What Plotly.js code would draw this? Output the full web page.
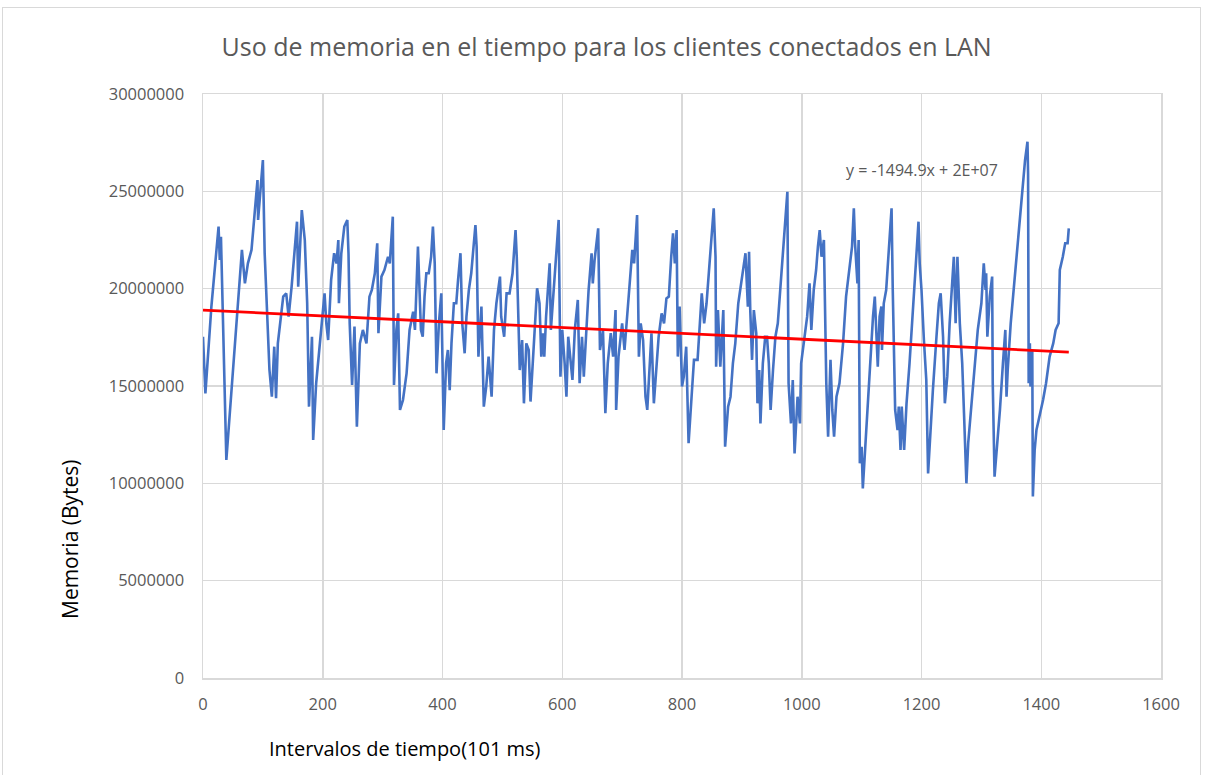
<!DOCTYPE html>
<html>
<head>
<meta charset="utf-8">
<script src="https://cdn.plot.ly/plotly-3.0.1.min.js"></script>
<style>
html,body{margin:0;padding:0;background:#fff;}
#wrap{position:relative;width:1206px;height:775px;overflow:hidden;}
#chart{position:absolute;left:0;top:0;width:1206px;height:775px;}
#frame{position:absolute;left:2px;top:7px;width:1197px;height:800px;border:1px solid #d9d9d9;pointer-events:none;}
</style>
</head>
<body>
<div id="wrap"><div id="chart"></div><div id="frame"></div></div>
<script>
// Time intervals (101 ms each)
const intervals = [0,4,14,26,28,30,39,47,58,65,70,75,81,84,91,92,97,100,103,106,111,115,119,122,125,134,139,143,148,157,159,165,170,174,177,
182,184,189,198,203,206,209,214,219,223,226,227,231,236,241,243,245,249,253,257,262,267,273,278,282,287,291,293,298,303,309,312,317,319,323,326,329,334,340,345,351,354,359,
364,367,370,373,377,381,384,387,390,394,398,402,406,409,412,415,419,423,426,430,433,437,440,444,448,455,457,460,465,469,473,477,482,486,490,496,498,503,507,512,517,522,524,529,533,536,540,544,
547,551,555,558,562,565,568,570,573,579,581,585,590,594,597,600,604,607,610,613,617,621,626,629,633,636,640,644,649,651,654,660,663,668,672,676,681,685,689,690,694,700,704,708,713,717,720,725,728,
731,735,739,742,746,749,753,757,761,766,770,774,778,782,785,788,791,793,796,800,803,807,811,816,820,826,830,833,837,841,846,850,853,856,857,860,864,869,872,877,881,885,889,894,900,906,910,
912,914,917,920,924,926,929,931,935,939,942,945,948,952,956,960,965,969,973,976,978,982,985,988,993,997,999,1005,1009,1013,1016,1020,1024,1027,1030,1033,1037,1041,1044,1048,1051,1054,1058,1063,1069,1074,1080,1084,1087,1089,1093,1095,1097,
1100,1102,1106,1111,1115,1119,1122,1125,1127,1130,1133,1134,1137,1141,1145,1150,1152,1156,1160,1162,1165,1167,1171,1175,1180,1186,1191,1195,1197,1200,1204,1208,1211,1215,1219,1225,1229,1232,1236,1239,1243,1247,1251,1254,1257,1260,1264,1268,1271,1273,1275,1278,
1283,1289,1294,1300,1304,1307,1308,1310,1314,1318,1319,1322,1327,1331,1336,1340,1342,1344,1349,1353,1358,1361,1366,1368,1371,1373,1377,1378,1379,1381,1382,1385,1386,1389,1392,1397,1403,1408,1414,1420,1424,1429,1431,1436,1440,1444,1446];

// Memory use in millions of bytes
const memoryMB = [17.53,14.62,19.08,23.19,21.47,22.67,11.20,14.45,19.25,21.99,20.27,21.30,21.99,23.19,25.58,23.53,25.41,26.61,21.82,19.25,15.82,14.45,17.02,14.37,17.19,19.59,19.76,18.56,20.10,23.44,20.10,24.04,22.50,19.25,13.94,
17.53,12.23,15.14,18.22,19.76,18.22,17.36,20.45,21.82,21.30,22.50,19.25,21.82,23.19,23.53,21.82,18.22,15.05,18.05,12.91,17.19,17.88,17.19,19.59,19.93,20.79,22.33,17.71,20.62,20.96,21.64,21.30,23.70,15.05,17.88,18.73,13.77,14.28,15.65,17.88,18.82,17.88,22.16,
17.88,17.53,19.59,20.79,20.79,21.64,23.19,21.30,15.65,18.22,19.76,12.74,16.16,16.85,14.79,17.19,19.25,19.25,20.45,21.82,18.22,16.68,18.56,19.93,20.79,23.27,22.16,16.51,19.08,13.94,14.97,16.51,14.45,17.88,19.25,20.62,18.56,17.53,19.76,19.76,20.79,23.01,21.64,15.82,17.36,14.11,17.19,16.85,
14.20,16.16,18.73,20.02,19.25,16.51,17.71,16.51,18.56,21.30,17.88,19.76,21.64,23.53,15.48,17.88,16.16,14.45,17.53,16.51,15.31,17.88,19.42,15.14,17.53,15.48,17.71,19.93,21.82,20.27,21.47,23.10,16.85,17.88,13.60,16.16,17.71,16.51,18.90,13.77,16.51,18.22,16.85,18.56,20.79,21.99,21.30,23.78,16.51,
18.22,17.36,14.45,13.77,16.51,17.71,14.11,15.99,17.53,18.73,18.22,19.50,19.59,21.64,22.84,21.30,23.01,16.51,19.08,14.97,15.48,17.02,12.06,14.45,16.34,16.34,18.05,19.76,18.22,19.25,21.30,23.01,24.13,21.64,15.99,18.90,15.99,18.90,11.88,13.94,14.45,16.16,17.19,19.25,20.62,21.82,19.08,
21.90,18.90,16.34,18.90,17.71,14.11,15.82,13.08,16.16,17.53,17.53,16.16,13.77,15.82,17.53,18.22,20.27,21.82,23.87,24.98,15.14,13.08,15.31,11.54,14.45,13.08,16.16,17.71,18.56,20.27,17.88,19.93,20.96,22.16,23.01,21.64,22.50,15.14,12.40,16.34,13.77,12.40,14.45,15.14,17.19,19.59,20.96,22.16,24.13,22.33,20.27,22.50,11.03,
11.88,9.74,11.88,14.62,16.51,18.56,19.59,17.02,15.99,18.56,19.08,16.85,19.25,19.93,21.64,24.13,19.93,13.77,12.74,13.94,11.71,13.94,11.71,14.11,16.16,18.90,21.64,23.44,21.30,19.93,17.36,15.31,10.51,12.74,14.79,17.53,19.25,19.76,17.53,14.11,15.48,18.22,20.10,21.64,18.22,21.64,18.22,16.16,13.60,12.06,10.00,12.06,
13.77,15.82,17.88,19.25,21.30,19.93,20.79,17.53,19.59,20.62,15.14,10.34,12.06,13.77,16.16,17.88,14.45,15.82,18.22,19.59,21.64,22.67,24.04,24.90,25.92,26.61,27.55,25.92,15.14,17.19,14.97,16.85,9.32,11.71,12.74,13.43,14.28,15.14,16.51,17.19,17.88,18.22,20.96,21.64,22.33,22.33,23.10];

// Linear trend shown on the chart: y = -1494.9x + 2E+07 (intercept read as ~1.89E+07)
const trendSlope = -1494.9;
const trendIntercept = 18.9e6;
const trendLabel = "y = -1494.9x + 2E+07";

const chartTitle = "Uso de memoria en el tiempo para los clientes conectados en LAN";
const xTitle = "Intervalos de tiempo(101 ms)";
const yTitle = "Memoria (Bytes)";

const memoryBytes = memoryMB.map(v => v * 1e6);
const xMin = Math.min(...intervals), xMax = Math.max(...intervals);

const traces = [
  {x: intervals, y: memoryBytes, type: 'scatter', mode: 'lines',
   line: {color: '#4472C4', width: 2.6}, hoverinfo: 'x+y', showlegend: false},
  {x: [xMin, xMax], y: [trendIntercept + trendSlope * xMin, trendIntercept + trendSlope * xMax],
   type: 'scatter', mode: 'lines', line: {color: '#FF0000', width: 2.8}, showlegend: false}
];

const gray = '#595959';
const layout = {
  width: 1206, height: 775,
  margin: {l: 203, r: 45, t: 94, b: 97},
  paper_bgcolor: '#ffffff', plot_bgcolor: '#ffffff',
  font: {family: 'Open Sans, Liberation Sans, sans-serif', color: gray},
  title: {text: chartTitle, x: 0.503, xref: 'container', xanchor: 'center', y: 0.939, yref: 'container', yanchor: 'middle',
          font: {family: 'Open Sans, sans-serif', size: 25, color: gray}},
  xaxis: {range: [0, 1600], dtick: 200, tick0: 0, showgrid: true, gridcolor: '#d9d9d9', gridwidth: 1.5,
          zeroline: false, showline: true, linecolor: '#d9d9d9', linewidth: 1.5, mirror: true,
          ticks: '', ticklabelstandoff: 11, tickfont: {size: 16.5, color: gray}},
  yaxis: {range: [0, 30000000], dtick: 5000000, tick0: 0, tickformat: 'd', showgrid: true, gridcolor: '#d9d9d9', gridwidth: 1.5,
          zeroline: false, showline: true, linecolor: '#d9d9d9', linewidth: 1.5, mirror: true,
          ticks: '', ticklabelstandoff: 14, tickfont: {size: 16.5, color: gray}},
  annotations: [
    {text: trendLabel, xref: 'paper', yref: 'paper', x: (922 - 203) / 958, y: (678 - 170) / 584,
     xanchor: 'center', yanchor: 'middle', showarrow: false, font: {size: 16, color: gray}},
    {text: xTitle, xref: 'paper', yref: 'paper', x: (405 - 203) / 958, y: (678 - 748) / 584,
     xanchor: 'center', yanchor: 'middle', showarrow: false, font: {size: 20, color: '#000000'}},
    {text: yTitle, xref: 'paper', yref: 'paper', x: (70 - 203) / 958, y: (678 - 539) / 584, textangle: -90,
     xanchor: 'center', yanchor: 'middle', showarrow: false, font: {size: 21, color: '#000000'}}
  ]
};

Plotly.newPlot('chart', traces, layout, {displayModeBar: false, staticPlot: true});
</script>
</body>
</html>
